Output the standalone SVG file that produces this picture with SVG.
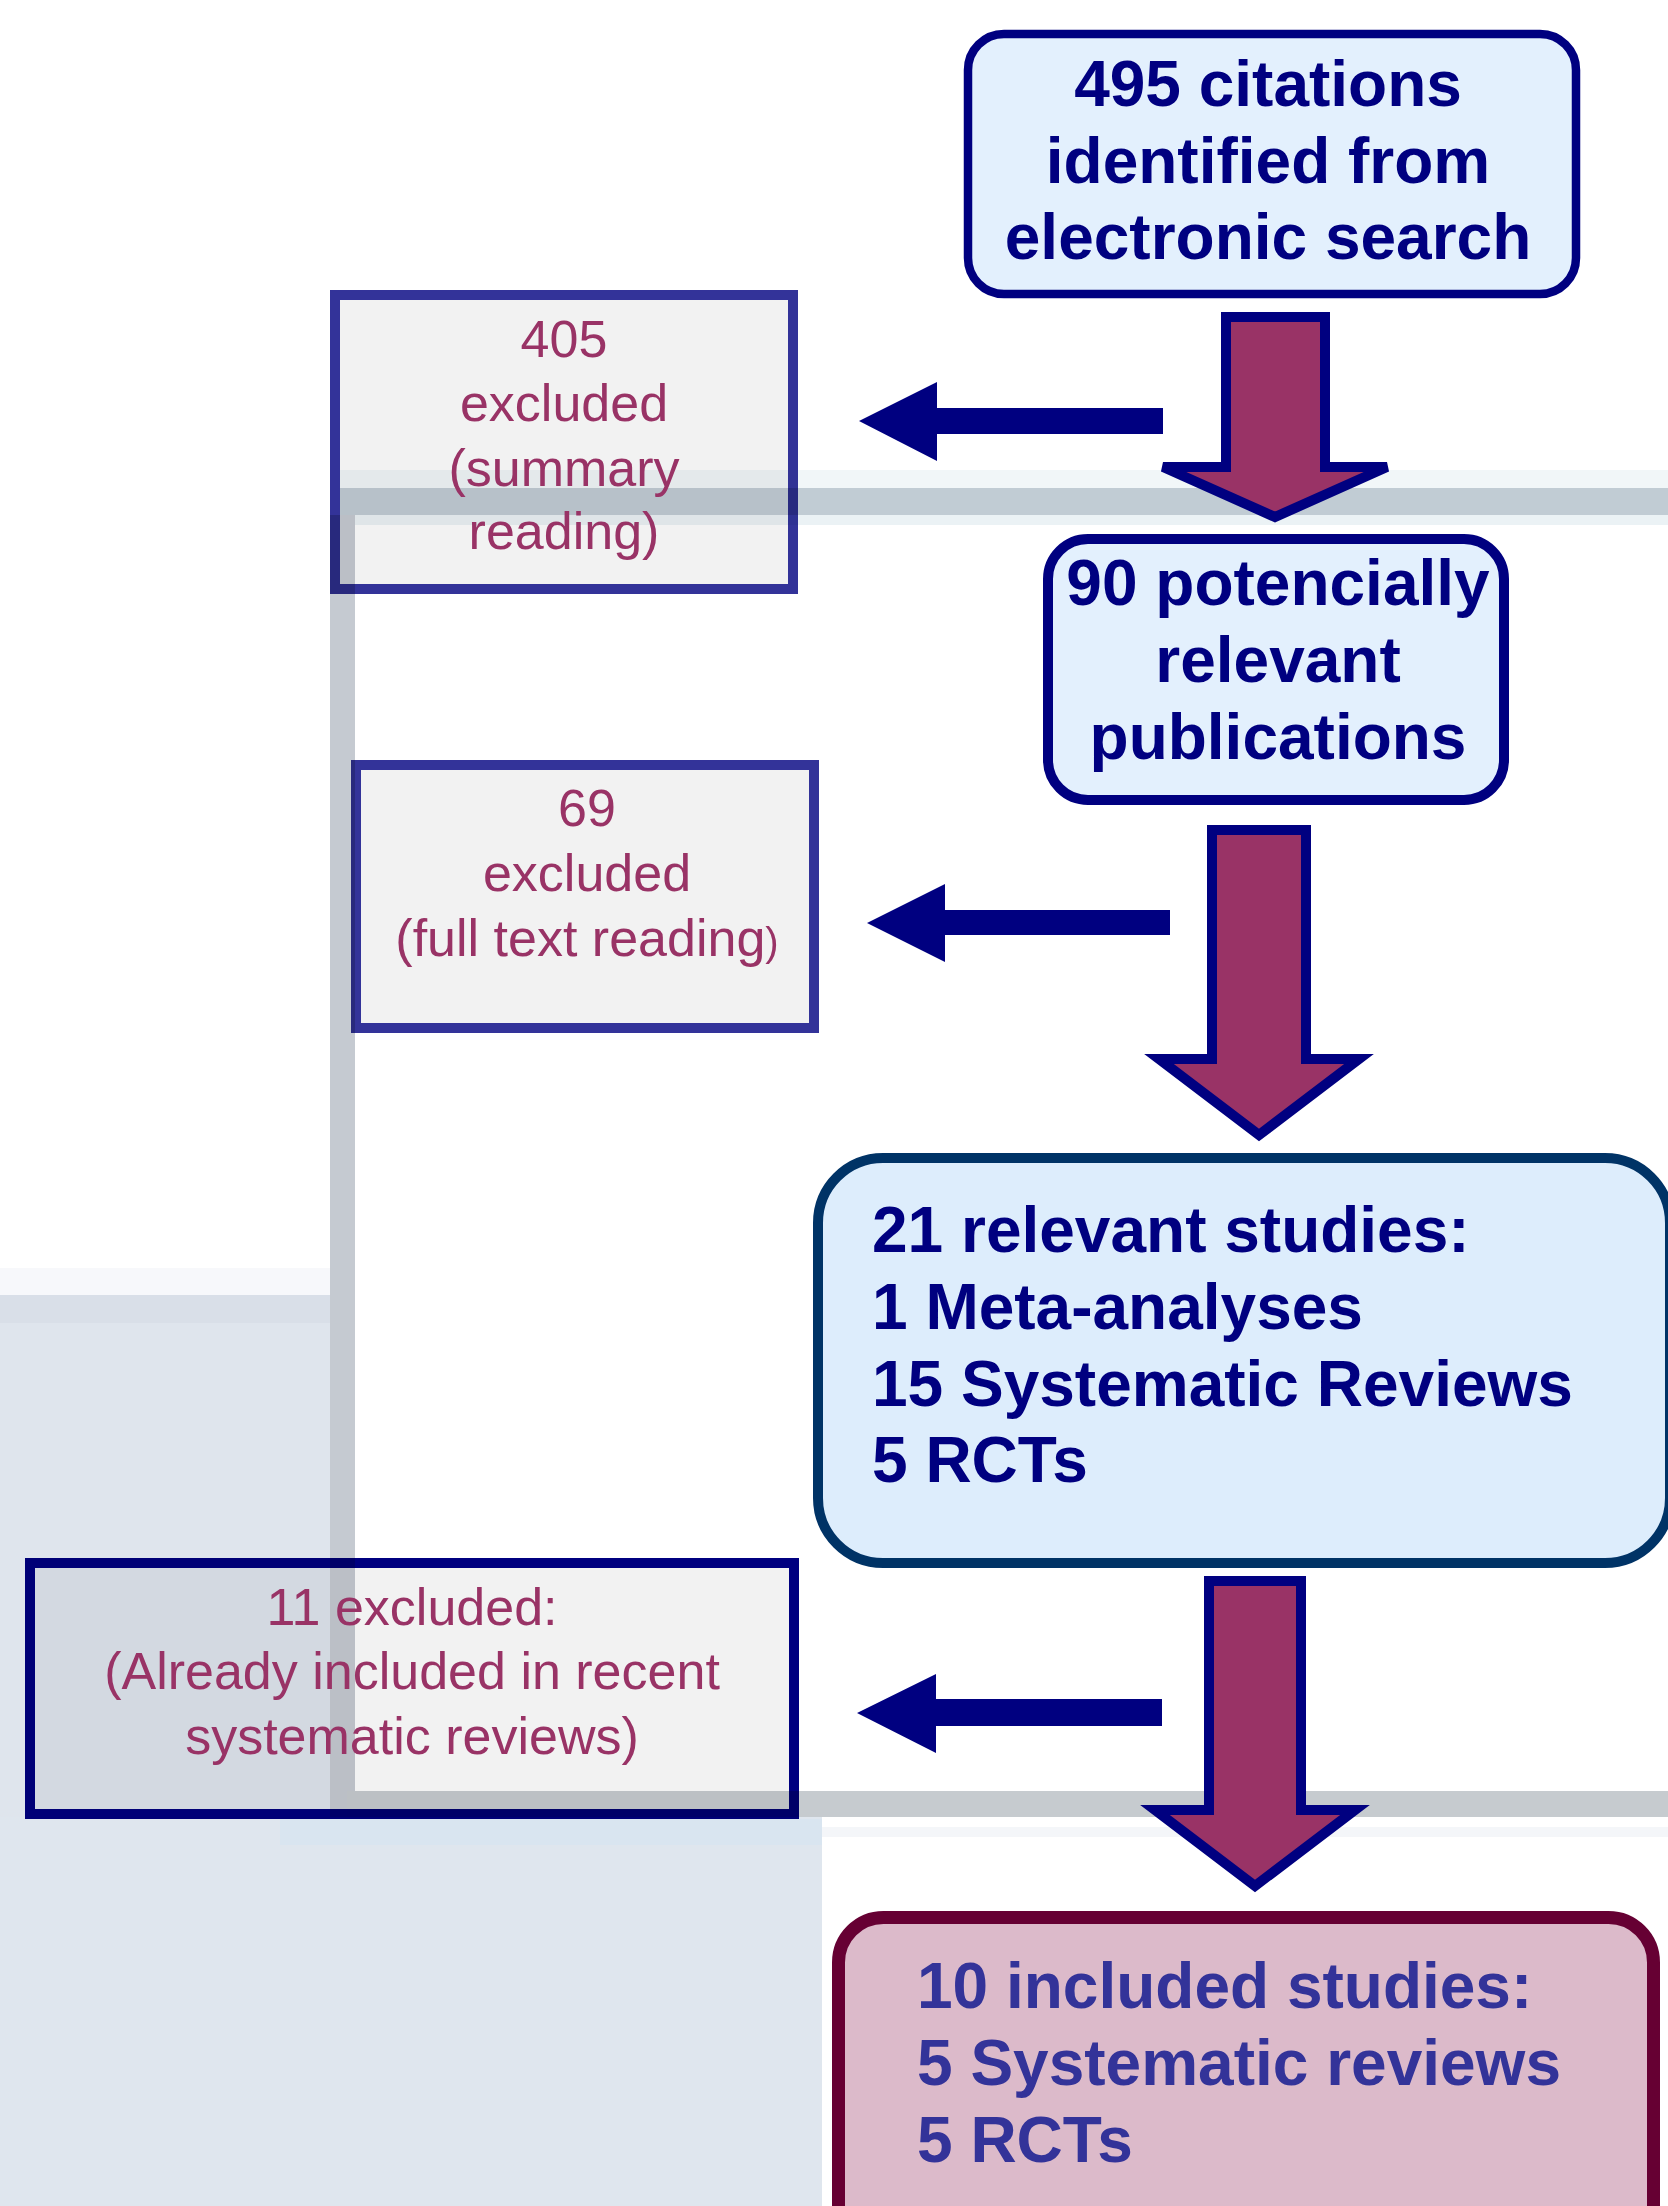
<svg xmlns="http://www.w3.org/2000/svg" width="1668" height="2206" viewBox="0 0 1668 2206">
<style>
.bold{font-family:"Liberation Sans",Arial,sans-serif;font-weight:bold;font-size:64px;fill:#000080}
.excl{font-family:"Liberation Sans",Arial,sans-serif;font-size:52px;fill:#993366;text-anchor:middle}
.mid{text-anchor:middle}
.exbox{fill:#f2f2f2;stroke-width:10;mix-blend-mode:multiply}
.down{fill:#993366;stroke:#000080;stroke-width:10;stroke-linejoin:miter}
.left{fill:#000080}
</style>
<rect width="1668" height="2206" fill="#ffffff"/>
<g id="background">
<rect x="340" y="470" width="1328" height="18" fill="#f1f6f8"/>
<rect x="340" y="488" width="1328" height="27" fill="#c1ccd4"/>
<rect x="340" y="515" width="1328" height="10" fill="#ebf2f5"/>
<rect x="330" y="515" width="25" height="1302" fill="#c5cad1"/>
<rect x="0" y="1295" width="330" height="530" fill="#dfe5ed"/>
<rect x="0" y="1295" width="330" height="28" fill="#d9dfe8"/>
<rect x="0" y="1268" width="330" height="27" fill="#f7f8fb"/>
<rect x="347" y="1791" width="1321" height="26" fill="#c6cbcf"/>
<rect x="0" y="1817" width="822" height="389" fill="#dfe6ee"/>
<rect x="280" y="1819" width="542" height="26" fill="#d9e5f0"/>
<rect x="822" y="1827" width="846" height="10" fill="#f4f6f9"/>
</g>
<g id="connectors">
<polygon class="down" points="1226,317 1325,317 1325,467 1387,467 1275,517 1163,467 1226,467"/>
<polygon class="left" points="859,421 937,382 937,408 1163,408 1163,434 937,434 937,461"/>
<polygon class="down" points="1212,830 1306,830 1306,1059 1359,1059 1259,1135 1159,1059 1212,1059"/>
<polygon class="left" points="867,923 945,884 945,910 1170,910 1170,935 945,935 945,962"/>
<polygon class="down" points="1209,1581 1301,1581 1301,1810 1355,1810 1255,1886 1155,1810 1209,1810"/>
<polygon class="left" points="857,1713 936,1674 936,1699 1162,1699 1162,1726 936,1726 936,1753"/>
</g>
<g id="node-495">
<rect x="968" y="34" width="608" height="260" rx="36" fill="#e3f0fd" stroke="#000080" stroke-width="8.5"/>
<text class="bold mid" x="1268" y="106">495 citations</text>
<text class="bold mid" x="1268" y="183">identified from</text>
<text class="bold mid" x="1268" y="259">electronic search</text>
</g>
<g id="node-405">
<rect class="exbox" x="335" y="295" width="458" height="294" stroke="#333399"/>
<text class="excl" x="564" y="357">405</text>
<text class="excl" x="564" y="421">excluded</text>
<text class="excl" x="564" y="486">(summary</text>
<text class="excl" x="564" y="549">reading)</text>
</g>
<g id="node-90">
<rect x="1048" y="539" width="456" height="261" rx="40" fill="#e3f0fd" stroke="#000080" stroke-width="10"/>
<text class="bold mid" x="1278" y="605">90 potencially</text>
<text class="bold mid" x="1278" y="682">relevant</text>
<text class="bold mid" x="1278" y="759">publications</text>
</g>
<g id="node-69">
<rect class="exbox" x="356" y="765" width="458" height="263" stroke="#333399"/>
<text class="excl" x="587" y="826">69</text>
<text class="excl" x="587" y="891">excluded</text>
<text class="excl" x="587" y="956">(full text reading<tspan font-size="40">)</tspan></text>
</g>
<g id="node-21">
<rect x="818" y="1158" width="852" height="405" rx="65" fill="#ddedfc" stroke="#003366" stroke-width="10"/>
<text class="bold" x="872" y="1252">21 relevant studies:</text>
<text class="bold" x="872" y="1329">1 Meta-analyses</text>
<text class="bold" x="872" y="1406">15 Systematic Reviews</text>
<text class="bold" x="872" y="1482">5 RCTs</text>
</g>
<g id="node-11">
<rect class="exbox" x="30" y="1563" width="764" height="251" stroke="#000080"/>
<text class="excl" x="412" y="1625">11 excluded:</text>
<text class="excl" x="412" y="1689">(Already included in recent</text>
<text class="excl" x="412" y="1754">systematic reviews)</text>
</g>
<g id="node-10">
<rect x="838.5" y="1917.5" width="815" height="340" rx="45" fill="#dcbaca" stroke="#660033" stroke-width="13"/>
<text class="bold" x="917" y="2008" style="fill:#333399">10 included studies:</text>
<text class="bold" x="917" y="2085" style="fill:#333399">5 Systematic reviews</text>
<text class="bold" x="917" y="2162" style="fill:#333399">5 RCTs</text>
</g>
</svg>
